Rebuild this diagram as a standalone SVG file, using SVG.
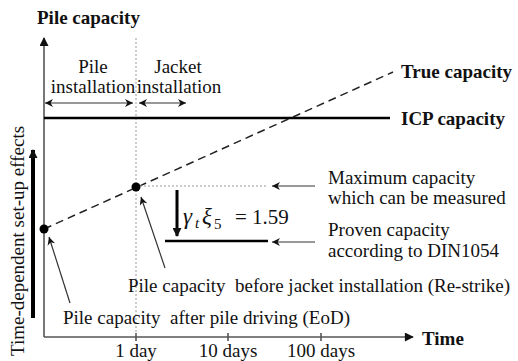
<svg xmlns="http://www.w3.org/2000/svg" width="518" height="361" viewBox="0 0 518 361" font-family="Liberation Serif, DejaVu Serif, serif">
<style>
text{font-family:'Liberation Serif','DejaVu Serif',serif;font-size:19px;fill:#111}
.b{font-weight:bold}
.ax{stroke:#555;stroke-width:1.6;fill:none}
.dot{stroke:#999;stroke-width:1;stroke-dasharray:2 2;fill:none}
.thin{stroke:#333;stroke-width:1.2;fill:none}
.thick{stroke:#000;stroke-width:3;fill:none}
.mi{font-style:italic;font-size:23px}
.ms{font-style:italic;font-size:15px}
.sn{font-size:15px}
.mn{font-size:21px}
</style>
<defs>
<marker id="ah" viewBox="0 0 10 10" refX="10" refY="5" markerWidth="10" markerHeight="8" markerUnits="userSpaceOnUse" orient="auto-start-reverse">
<path d="M0,0 L10,5 L0,10 L3,5 z" fill="#111"/>
</marker>
<marker id="ahb" viewBox="0 0 10 10" refX="9" refY="5" markerWidth="12" markerHeight="9" markerUnits="userSpaceOnUse" orient="auto">
<path d="M0,0 L10,5 L0,10 z" fill="#111"/>
</marker>
</defs>
<g id="axes">
<line class="ax" x1="44" y1="337" x2="44" y2="38" marker-end="url(#ahb)"/>
<line class="ax" x1="44" y1="337" x2="413" y2="337" marker-end="url(#ahb)"/>
<line class="ax" x1="136" y1="333" x2="136" y2="341"/>
<line class="ax" x1="228" y1="333" x2="228" y2="341"/>
<line class="ax" x1="321" y1="333" x2="321" y2="341"/>
<text x="136" y="357" text-anchor="middle">1 day</text>
<text x="228" y="357" text-anchor="middle">10 days</text>
<text x="321" y="357" text-anchor="middle">100 days</text>
<text class="b" x="37" y="24">Pile capacity</text>
<text class="b" x="422" y="345">Time</text>
</g>
<g id="phases">
<line class="dot" x1="136" y1="38" x2="136" y2="335"/>
<text x="93" y="73" text-anchor="middle">Pile</text>
<text x="93" y="93" text-anchor="middle">installation</text>
<text x="178" y="73" text-anchor="middle">Jacket</text>
<text x="179" y="93" text-anchor="middle">installation</text>
</g>
<g id="curves">
<line x1="44" y1="118" x2="390" y2="118" stroke="#000" stroke-width="2.5"/>
<text class="b" x="401" y="125">ICP capacity</text>
<line x1="44" y1="229" x2="393" y2="72" stroke="#222" stroke-width="1.5" stroke-dasharray="8 5"/>
<text class="b" x="401" y="78">True capacity</text>
<circle cx="44" cy="229" r="4.5" fill="#000"/>
<circle cx="136" cy="187" r="4.5" fill="#000"/>
<line class="dot" x1="140" y1="186" x2="268" y2="186"/>
<line x1="165" y1="241" x2="268" y2="241" stroke="#000" stroke-width="2.5"/>
</g>
<g id="labels">
<text x="328" y="184">Maximum capacity</text>
<text x="328" y="204">which can be measured</text>
<text x="328" y="236">Proven capacity</text>
<text x="328" y="257">according to DIN1054</text>
<text y="224"><tspan class="mi" x="183">γ</tspan><tspan class="ms" x="195" y="228">t</tspan><tspan class="mi" x="202" y="224">ξ</tspan><tspan class="sn" x="214" y="229">5</tspan><tspan class="mn" x="235" y="224">=</tspan><tspan class="mn" x="252" y="224">1.59</tspan></text>
<text x="128" y="292" xml:space="preserve">Pile capacity  before jacket installation (Re-strike)</text>
<text x="63" y="324" xml:space="preserve">Pile capacity  after pile driving (EoD)</text>
<text transform="translate(24,356) rotate(-90)">Time-dependent set-up effects</text>
</g>
<g id="connectors">
<line class="thin" x1="133" y1="103" x2="45" y2="103" marker-start="url(#ah)" marker-end="url(#ah)"/>
<line class="thin" x1="186" y1="103" x2="139" y2="103" marker-start="url(#ah)" marker-end="url(#ah)"/>
<line class="thin" x1="315" y1="186" x2="272" y2="186" marker-end="url(#ah)"/>
<line class="thin" x1="315" y1="242" x2="272" y2="242" marker-end="url(#ah)"/>
<line class="thin" x1="165" y1="268" x2="141" y2="197" marker-end="url(#ah)"/>
<line class="thin" x1="70" y1="303" x2="49" y2="237" marker-end="url(#ah)"/>
<line class="thick" x1="177" y1="190" x2="177" y2="236" marker-end="url(#ahb)"/>
<line x1="33" y1="318" x2="33" y2="150" stroke="#000" stroke-width="4" marker-end="url(#ahb)"/>
</g>
</svg>
